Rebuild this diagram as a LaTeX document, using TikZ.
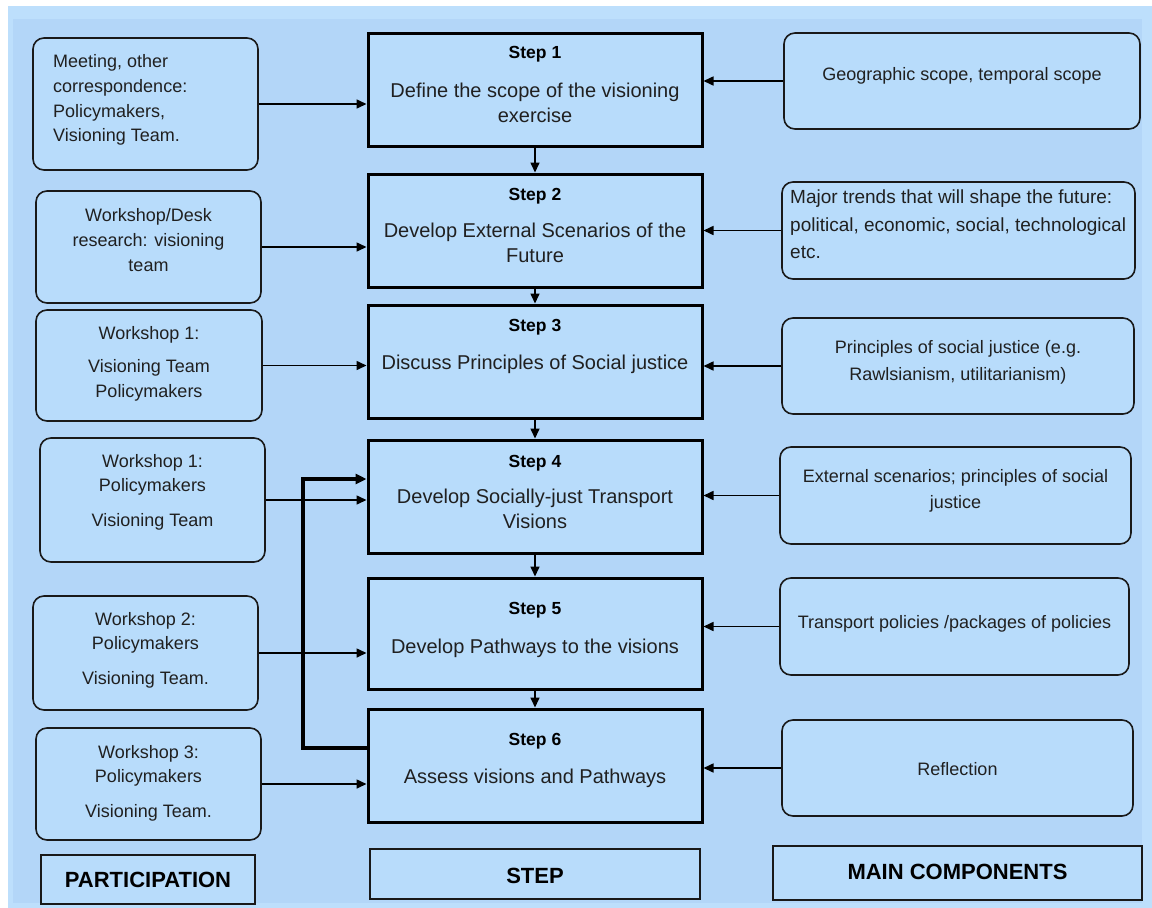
\documentclass[tikz,border=0pt]{standalone}
\usepackage{fontspec}
\setmainfont{Liberation Sans}
\usetikzlibrary{arrows.meta,calc}

\definecolor{bgout}{RGB}{189,223,252}
\definecolor{bgin}{RGB}{179,214,248}
\definecolor{boxfill}{RGB}{184,220,251}
\definecolor{ink}{RGB}{32,32,32}
\definecolor{edge}{RGB}{25,25,25}

% box placed by its outer corners (x1,y1) and (x2,y2)
\newcommand\placebox[6]{%
  \node[#1, minimum width={#5-#3}, minimum height={#6-#4}] (#2)
    at ({(#3+#5)/2},{(#4+#6)/2}) {};}

\begin{document}
\begin{tikzpicture}[x=1pt,y=-1pt,
  stepbox/.style={draw=black, line width=3pt, fill=boxfill, inner sep=0pt},
  roundbox/.style={draw=edge, line width=1.6pt, fill=boxfill,
    rounded corners=11pt, inner sep=0pt},
  labelbox/.style={draw=edge, line width=1.8pt, fill=boxfill, inner sep=0pt},
  steptitle/.style={font=\fontsize{17.5}{21}\selectfont\bfseries,
    text=black, inner sep=0pt},
  stepbody/.style={font=\fontsize{20}{25}\selectfont, text=ink,
    align=center, inner sep=0pt},
  sidetext/.style={font=\fontsize{18}{24.6}\selectfont, text=ink,
    align=center, inner sep=0pt},
  comptext/.style={font=\fontsize{18}{27}\selectfont, text=ink,
    align=center, inner sep=0pt},
  headtext/.style={font=\fontsize{22}{26}\selectfont\bfseries,
    text=black, inner sep=0pt},
  flow/.style={draw=black, line width=1.6pt,
    -{Triangle[length=10pt,width=9pt]}},
  feedback/.style={draw=black, line width=3.2pt, line join=miter,
    -{Triangle[length=11pt,width=10pt]}},
]
\useasboundingbox (0,0) rectangle (1152,908);

% background panel
\fill[bgout] (8,6) rectangle (1152,908);
\fill[bgin] (13,19) rectangle (1142,903);

% ---- step column ----
\placebox{stepbox}{s1}{368}{33}{702}{146}
\placebox{stepbox}{s2}{368}{174}{702}{287}
\placebox{stepbox}{s3}{368}{305}{702}{418}
\placebox{stepbox}{s4}{368}{440}{702}{553}
\placebox{stepbox}{s5}{368}{578}{702}{689}
\placebox{stepbox}{s6}{368}{709}{702}{822}

\node[steptitle] (s1t) at (535,54) {\strut Step 1};
\node[stepbody] (s1b) at (535,104.5) {\strut Define the scope of the visioning\\\strut exercise};
\node[steptitle] (s2t) at (535,196) {\strut Step 2};
\node[stepbody] (s2b) at (535,244.5) {\strut Develop External Scenarios of the\\\strut Future};
\node[steptitle] (s3t) at (535,327) {\strut Step 3};
\node[stepbody] (s3b) at (535,364) {\strut Discuss Principles of Social justice};
\node[steptitle] (s4t) at (535,463) {\strut Step 4};
\node[stepbody] (s4b) at (535,510.5) {\strut Develop Socially-just Transport\\\strut Visions};
\node[steptitle] (s5t) at (535,610) {\strut Step 5};
\node[stepbody] (s5b) at (535,648) {\strut Develop Pathways to the visions};
\node[steptitle] (s6t) at (535,741) {\strut Step 6};
\node[stepbody] (s6b) at (535,778) {\strut Assess visions and Pathways};

% ---- participation column ----
\placebox{roundbox}{l1}{33}{38}{258}{170}
\placebox{roundbox}{l2}{36}{191}{261}{303}
\placebox{roundbox}{l3}{36}{310}{262}{421}
\placebox{roundbox}{l4}{40}{438}{265}{562}
\placebox{roundbox}{l5}{33}{596}{258}{710}
\placebox{roundbox}{l6}{36}{728}{261}{840}

\node[sidetext, align=left, anchor=west, font=\fontsize{18}{24.7}\selectfont]
  (l1t) at (53,100) {\strut Meeting, other\\\strut correspondence:\\\strut Policymakers,\\\strut Visioning Team.};
\node[sidetext] (l2t) at (148.5,241.5) {\strut Workshop/Desk\\\strut research: visioning\\\strut team};
\node[sidetext] (l3t) at (149,363.5) {\strut Workshop 1:\\[9pt]\strut Visioning Team\\\strut Policymakers};
\node[sidetext] (l4t) at (152.5,492) {\strut Workshop 1:\\\strut Policymakers\\[10pt]\strut Visioning Team};
\node[sidetext] (l5t) at (145.5,650) {\strut Workshop 2:\\\strut Policymakers\\[10pt]\strut Visioning Team.};
\node[sidetext] (l6t) at (148.5,783) {\strut Workshop 3:\\\strut Policymakers\\[10pt]\strut Visioning Team.};

% ---- main components column ----
\placebox{roundbox}{r1}{784}{33}{1140}{129}
\placebox{roundbox}{r2}{782}{182}{1135}{279}
\placebox{roundbox}{r3}{782}{318}{1134}{414}
\placebox{roundbox}{r4}{780}{447}{1131}{544}
\placebox{roundbox}{r5}{780}{578}{1129}{675}
\placebox{roundbox}{r6}{782}{720}{1133}{816}

\node[comptext] (r1t) at (962,75) {\strut Geographic scope, temporal scope};
\node[comptext, align=left, anchor=west, font=\fontsize{19}{27.5}\selectfont]
  (r2t) at (790,225.5) {\strut Major trends that will shape the future:\\\strut political, economic, social, technological\\\strut etc.};
\node[comptext] (r3t) at (958,361.5) {\strut Principles of social justice (e.g.\\\strut Rawlsianism, utilitarianism)};
\node[comptext, font=\fontsize{18}{26}\selectfont] (r4t) at (955.5,490) {\strut External scenarios; principles of social\\\strut justice};
\node[comptext] (r5t) at (954.5,623) {\strut Transport policies /packages of policies};
\node[comptext] (r6t) at (957.5,770) {\strut Reflection};

% ---- column headings ----
\placebox{labelbox}{hp}{41}{855}{255}{904}
\placebox{labelbox}{hs}{370}{849}{700}{899}
\placebox{labelbox}{hm}{773}{846}{1142}{900}
\node[headtext] (hpt) at (148,882) {\strut PARTICIPATION};
\node[headtext] (hst) at (535,878) {\strut STEP};
\node[headtext] (hmt) at (957.5,874) {\strut MAIN COMPONENTS};

% ---- step sequence ----
\draw[flow] (s1.south) -- (s2.north);
\draw[flow] (s2.south) -- (s3.north);
\draw[flow] (s3.south) -- (s4.north);
\draw[flow] (s4.south) -- (s5.north);
\draw[flow] (s5.south) -- (s6.north);

% ---- participation into steps ----
\draw[flow] (l1.east) -- (l1.east -| s1.west);
\draw[flow] (l2.east) -- (l2.east -| s2.west);
\draw[flow] (l3.east) -- (l3.east -| s3.west);
\draw[flow] (l4.east) -- (l4.east -| s4.west);
\draw[flow] (l5.east) -- (l5.east -| s5.west);
\draw[flow] (l6.east) -- (l6.east -| s6.west);

% ---- components into steps ----
\draw[flow] (r1.west) -- (r1.west -| s1.east);
\draw[flow] (r2.west) -- (r2.west -| s2.east);
\draw[flow] (r3.west) -- (r3.west -| s3.east);
\draw[flow] (r4.west) -- (r4.west -| s4.east);
\draw[flow] (r5.west) -- (r5.west -| s5.east);
\draw[flow] (r6.west) -- (r6.west -| s6.east);

% ---- assessment loops back to step 4 ----
\coordinate (fblow) at (303,748);
\coordinate (fbup) at (303,479);
\draw[feedback] (fblow -| s6.west) -- (fblow) -- (fbup) -- (fbup -| s4.west);
\end{tikzpicture}
\end{document}
